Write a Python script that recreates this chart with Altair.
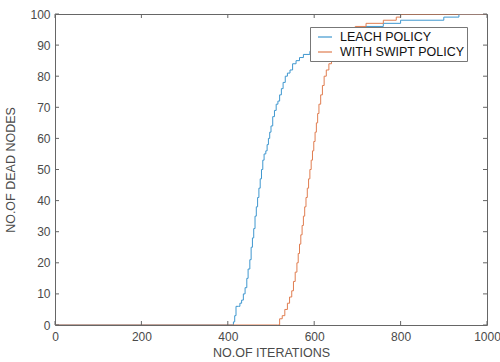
import altair as alt
import pandas as pd

leach_x = [0, 410, 413, 416, 419, 425, 428, 432, 436, 440, 444, 447, 451, 454, 457, 460, 463, 466, 469, 472,
           475, 478, 481, 484, 488, 491, 494, 497, 500, 504, 508, 512, 516, 520, 524, 528, 533, 538, 544, 550,
           558, 566, 575, 590, 610, 630, 650, 670, 690, 720, 760, 800, 900, 935, 1000]
leach_y = [0, 0, 1, 3, 6, 6, 7, 8, 10, 12, 15, 18, 21, 25, 28, 31, 35, 38, 41, 44,
           47, 50, 53, 55, 56, 58, 60, 62, 64, 67, 69, 71, 72, 74, 76, 78, 80, 81, 82, 84,
           85, 86, 87, 88, 89, 90, 92, 94, 95, 96, 97, 98, 99, 100, 100]

swipt_x = [0, 515, 520, 526, 532, 538, 543, 548, 552, 556, 560, 563, 566, 569, 572, 575, 578, 581, 584, 587,
           590, 593, 596, 599, 602, 605, 608, 611, 615, 619, 623, 628, 634, 640, 647, 655, 662, 670, 680, 695,
           720, 760, 790, 800, 1000]
swipt_y = [0, 0, 2, 3, 5, 7, 9, 11, 14, 17, 20, 23, 26, 29, 32, 35, 38, 41, 44, 47,
           50, 53, 56, 59, 62, 65, 68, 71, 74, 77, 80, 82, 84, 86, 88, 90, 92, 94, 95, 96,
           97, 98, 99, 100, 100]

series_names = ["LEACH POLICY", "WITH SWIPT POLICY"]
series_colors = ["#3f97cf", "#e07d50"]
x_ticks = [0, 200, 400, 600, 800, 1000]
y_ticks = [0, 10, 20, 30, 40, 50, 60, 70, 80, 90, 100]

df = pd.concat([
    pd.DataFrame({"x": leach_x, "y": leach_y, "series": series_names[0]}),
    pd.DataFrame({"x": swipt_x, "y": swipt_y, "series": series_names[1]}),
])

W, H = 432, 311
FONT = "Liberation Sans"
TXT = "#4a4a4a"

xs = alt.Scale(domain=[0, 1000], nice=False)
ys = alt.Scale(domain=[0, 100], nice=False)

x_axis = alt.Axis(values=x_ticks, title="NO.OF ITERATIONS", grid=False,
                  ticks=False, domain=False, labelPadding=6, titlePadding=4,
                  labelFontSize=12, titleFontSize=12.5, format="d",
                  labelOverlap=False, labelFlush=False)
y_axis = alt.Axis(values=y_ticks, title="NO.OF DEAD NODES", grid=False,
                  ticks=False, domain=False, labelPadding=5, titlePadding=12,
                  labelFontSize=12, titleFontSize=12.5, format="d",
                  labelOverlap=False, labelFlush=False)

lines = alt.Chart(df).mark_line(interpolate="step-after", strokeWidth=1, clip=True).encode(
    x=alt.X("x:Q", scale=xs, axis=x_axis),
    y=alt.Y("y:Q", scale=ys, axis=y_axis),
    color=alt.Color("series:N", scale=alt.Scale(domain=series_names, range=series_colors),
                    legend=alt.Legend(title=None, orient="none", legendX=255, legendY=13,
                                      symbolType="stroke", symbolSize=196, symbolStrokeWidth=1.2,
                                      symbolOffset=5,
                                      labelFontSize=12.5, labelFont=FONT, labelColor="#111",
                                      strokeColor="#777", fillColor="white", padding=2,
                                      rowPadding=0, labelOffset=7, labelLimit=300)),
)

xt = pd.DataFrame({"v": x_ticks})
yt = pd.DataFrame({"v": y_ticks})
tick_col = "#666"
bx = alt.Chart(xt).mark_rule(color=tick_col, strokeWidth=1).encode(
    x=alt.X("v:Q", scale=xs, axis=x_axis), y=alt.value(H), y2=alt.value(H - 4))
tx = alt.Chart(xt).mark_rule(color=tick_col, strokeWidth=1).encode(
    x=alt.X("v:Q", scale=xs, axis=x_axis), y=alt.value(0), y2=alt.value(4))
ly = alt.Chart(yt).mark_rule(color=tick_col, strokeWidth=1).encode(
    y=alt.Y("v:Q", scale=ys, axis=y_axis), x=alt.value(0), x2=alt.value(4))
ry = alt.Chart(yt).mark_rule(color=tick_col, strokeWidth=1).encode(
    y=alt.Y("v:Q", scale=ys, axis=y_axis), x=alt.value(W - 4), x2=alt.value(W))

chart = alt.layer(lines, bx, tx, ly, ry).properties(
    width=W, height=H,
    autosize=alt.AutoSizeParams(type="none"),
    padding={"left": 55, "top": 14, "right": 13, "bottom": 37},
    background="white",
).configure_view(stroke="#666", strokeWidth=1).configure_axis(
    labelFont=FONT, titleFont=FONT, labelColor=TXT, titleColor=TXT, titleFontWeight="normal"
)

chart.save("out.html", embed_options={"renderer": "svg", "actions": False})
